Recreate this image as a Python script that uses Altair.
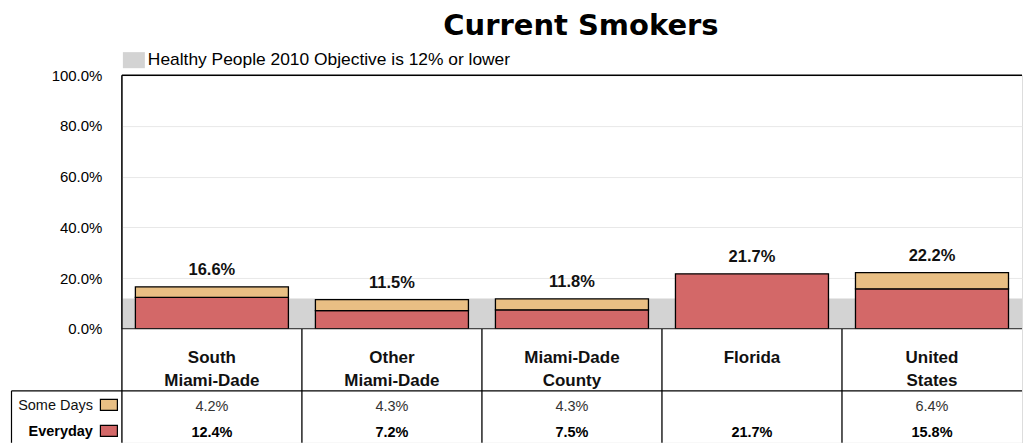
import altair as alt
import pandas as pd

categories = ["South Miami-Dade", "Other Miami-Dade", "Miami-Dade County", "Florida", "United States"]
cat_labels = ["South\nMiami-Dade", "Other\nMiami-Dade", "Miami-Dade\nCounty", "Florida", "United\nStates"]
some_days = [4.2, 4.3, 4.3, None, 6.4]
everyday = [12.4, 7.2, 7.5, 21.7, 15.8]
totals = [16.6, 11.5, 11.8, 21.7, 22.2]
objective_low = 0
objective_high = 12
objective_label = "Healthy People 2010 Objective is 12% or lower"
series = ["Some Days", "Everyday"]
series_colors = ["#e9bf84", "#d36868"]
y_ticks = [0, 20, 40, 60, 80, 100]

FONT = "Liberation Sans, Arial, sans-serif"
W = 901
H_TOP = 254
H_BOT = 114

rows = []
for c, s, e in zip(categories, some_days, everyday):
    rows.append({"cat": c, "series": "Everyday", "value": e, "ord": 0})
    if s is not None:
        rows.append({"cat": c, "series": "Some Days", "value": s, "ord": 1})
bars_df = pd.DataFrame(rows)

tot_df = pd.DataFrame({"cat": categories, "total": totals})
band_df = pd.DataFrame({"lo": [objective_low], "hi": [objective_high], "label": [objective_label]})

tbl_rows = []
for c, s, e in zip(categories, some_days, everyday):
    tbl_rows.append({"cat": c, "series": "Some Days", "txt": "" if s is None else f"{s:.1f}%"})
    tbl_rows.append({"cat": c, "series": "Everyday", "txt": "" if e is None else f"{e:.1f}%"})
tbl_df = pd.DataFrame(tbl_rows)
lab_df = pd.DataFrame({"cat": categories, "label": cat_labels})
ser_df = pd.DataFrame({"series": series})
one_df = pd.DataFrame({"k": [0]})

x_top = alt.X("cat:N", sort=categories, axis=None,
              scale=alt.Scale(paddingInner=0.15, paddingOuter=0.075))
y_scale = alt.Scale(domain=[0, 100], nice=False, zero=True)
color_scale = alt.Scale(domain=series, range=series_colors)

band = alt.Chart(band_df).mark_rect().encode(
    x=alt.value(0), x2=alt.value("width"),
    y=alt.Y("lo:Q", scale=y_scale,
            axis=alt.Axis(values=y_ticks, title=None, ticks=False, domain=False,
                          labelExpr="format(datum.value, '.1f') + '%'",
                          labelFont=FONT, labelFontSize=15, labelColor="#000",
                          labelPadding=20, grid=True, gridColor="#e8e8e8", gridWidth=1)),
    y2="hi:Q",
    fill=alt.Fill("label:N", scale=alt.Scale(range=["#d3d3d3"]),
                  legend=alt.Legend(title=None, orient="none", legendX=1, legendY=-26,
                                    symbolType="M-1,-0.73H1V0.73H-1Z", symbolSize=484,
                                    symbolStrokeWidth=0, symbolOpacity=1,
                                    labelFont=FONT, labelFontSize=17.4, labelColor="#000",
                                    labelOffset=3, padding=0, labelLimit=600)),
)

bars = alt.Chart(bars_df).mark_bar(stroke="black", strokeWidth=1.3, opacity=1).encode(
    x=x_top,
    y=alt.Y("value:Q", stack="zero", scale=y_scale),
    color=alt.Color("series:N", scale=color_scale, legend=None),
    order=alt.Order("ord:Q"),
)

tot_text = alt.Chart(tot_df).transform_calculate(
    lbl="format(datum.total, '.1f') + '%'"
).mark_text(font=FONT, fontSize=16.5, fontWeight="bold", baseline="alphabetic", dy=-12,
            color="#111").encode(
    x=x_top, y=alt.Y("total:Q", scale=y_scale), text="lbl:N"
)

border_top = alt.Chart(one_df).mark_rule(color="black", strokeWidth=1.5).encode(
    x=alt.value(0), x2=alt.value("width"), y=alt.value(0))
border_left = alt.Chart(one_df).mark_rule(color="black", strokeWidth=1.5).encode(
    x=alt.value(0), y=alt.value(0), y2=alt.value("height"))
border_bottom = alt.Chart(one_df).mark_rule(color="black", strokeWidth=1.5).encode(
    x=alt.value(0), x2=alt.value("width"), y=alt.value("height"))

top = alt.layer(band, bars, tot_text, border_top, border_left, border_bottom).properties(
    width=W, height=H_TOP,
    title=alt.TitleParams("Current Smokers", font="DejaVu Sans", fontSize=29,
                          fontWeight="bold", anchor="middle", offset=27, dx=9,
                          color="#000"),
)

x_bot = alt.X("cat:N", sort=categories, axis=None,
              scale=alt.Scale(paddingInner=0, paddingOuter=0))
y_rows = alt.Y("series:N", axis=None,
               scale=alt.Scale(type="point", domain=series, range=[76, 102], padding=0))

cat_text = alt.Chart(lab_df).mark_text(
    font=FONT, fontSize=17, fontWeight="bold", lineBreak="\n", lineHeight=23.5,
    baseline="alphabetic", color="#111"
).encode(x=x_bot, y=alt.value(34), text="label:N")

sd_text = alt.Chart(tbl_df).transform_filter("datum.series == 'Some Days'").mark_text(
    font=FONT, fontSize=14.5, color="#333", baseline="alphabetic", dy=6
).encode(x=x_bot, y=y_rows, text="txt:N")

ev_text = alt.Chart(tbl_df).transform_filter("datum.series == 'Everyday'").mark_text(
    font=FONT, fontSize=14.5, fontWeight="bold", color="#000", baseline="alphabetic", dy=6
).encode(x=x_bot, y=y_rows, text="txt:N")

seps = alt.Chart(lab_df).mark_rule(color="black", strokeWidth=1.3).encode(
    x=alt.X("cat:N", sort=categories, bandPosition=0,
            scale=alt.Scale(paddingInner=0, paddingOuter=0), axis=None),
    y=alt.value(0), y2=alt.value("height"),
)

hline = alt.Chart(one_df).mark_rule(color="black", strokeWidth=1.3).encode(
    x=alt.value(-110.5), x2=alt.value("width"), y=alt.value(62)
)
vline = alt.Chart(one_df).mark_rule(color="black", strokeWidth=1.2).encode(
    x=alt.value(-110.5), y=alt.value(62), y2=alt.value("height")
)

row_lbl_sd = alt.Chart(ser_df).transform_filter("datum.series == 'Some Days'").mark_text(
    font=FONT, fontSize=14.5, align="right", color="#111", baseline="alphabetic", dy=5
).encode(x=alt.value(-29), y=y_rows, text="series:N")
row_lbl_ev = alt.Chart(ser_df).transform_filter("datum.series == 'Everyday'").mark_text(
    font=FONT, fontSize=14.5, fontWeight="bold", align="right", color="#000",
    baseline="alphabetic", dy=5
).encode(x=alt.value(-29), y=y_rows, text="series:N")

swatch = alt.Chart(ser_df).mark_point(
    shape="M-1,-0.65H1V0.65H-1Z", size=289, filled=True, stroke="black",
    strokeWidth=1.2, opacity=1
).encode(x=alt.value(-13), y=y_rows,
         color=alt.Color("series:N", scale=color_scale, legend=None))

bottom = alt.layer(seps, hline, vline, cat_text, sd_text, ev_text,
                   row_lbl_sd, row_lbl_ev, swatch).properties(width=W, height=H_BOT)

chart = alt.vconcat(top, bottom, spacing=0, bounds="flush").properties(
    padding={"left": 2, "top": 3, "right": 0, "bottom": 0}
).configure_view(strokeWidth=0).configure(background="white")

chart.save("out.html", embed_options={"renderer": "svg", "actions": False})
